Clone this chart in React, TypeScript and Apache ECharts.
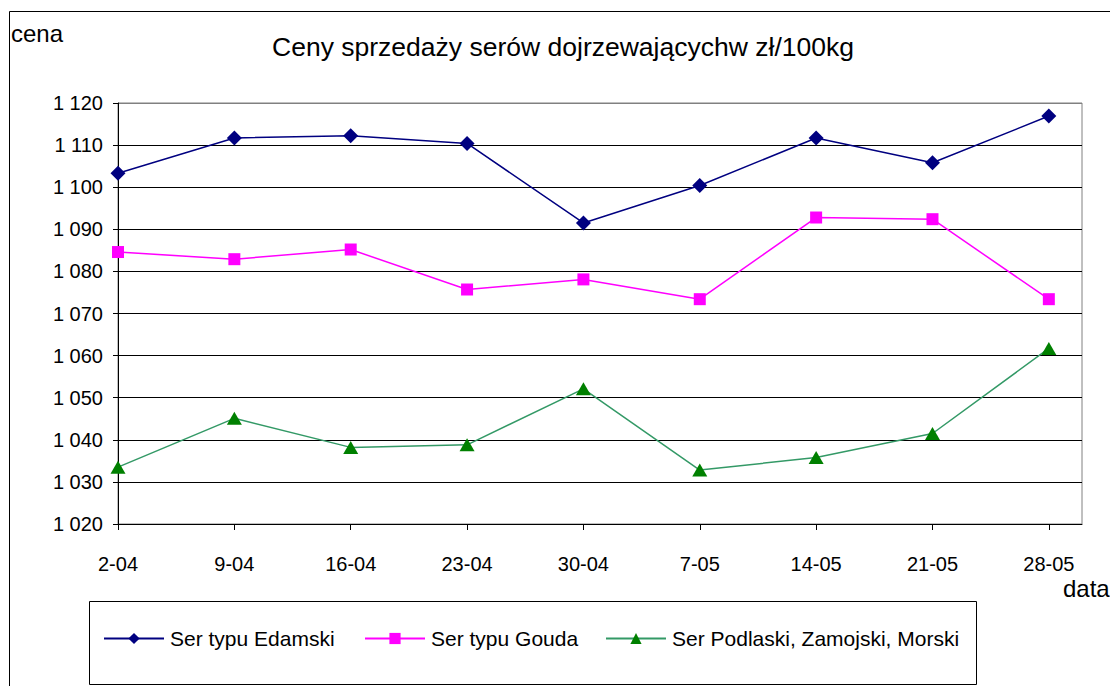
import React, { useEffect, useRef } from "react";
import * as echarts from "echarts";

const categories = ["2-04", "9-04", "16-04", "23-04", "30-04", "7-05", "14-05", "21-05", "28-05"];
const edamski = [1103.3, 1111.7, 1112.2, 1110.4, 1091.5, 1100.4, 1111.7, 1105.8, 1116.9];
const gouda = [1084.6, 1082.9, 1085.2, 1075.7, 1078.1, 1073.4, 1092.8, 1092.4, 1073.4];
const podlaski = [1033.5, 1045.1, 1038.2, 1038.8, 1052.1, 1032.8, 1035.8, 1041.5, 1061.7];
const seriesNames = ["Ser typu Edamski", "Ser typu Gouda", "Ser Podlaski, Zamojski, Morski"];
const yMin = 1020;
const yMax = 1120;
const yStep = 10;
const titleText = "Ceny sprzedaży serów dojrzewającychw zł/100kg";
const yName = "cena";
const xName = "data";

const FONT = '"Liberation Sans", Arial, sans-serif';

function fmtY(v: number): string {
  const s = String(Math.round(v));
  return s.replace(/\B(?=(\d{3})+(?!\d))/g, " ");
}

export default function App() {
  const ref = useRef<HTMLDivElement>(null);
  useEffect(() => {
    if (!ref.current) return;
    const chart = echarts.init(ref.current, null, { renderer: "svg" });
    const toPts = (arr: number[]) => arr.map((v, i) => [i, v]);
    const idx = categories.map((_, i) => i);
    const legendBase = {
      top: 628,
      itemWidth: 60,
      itemHeight: 14,
      padding: 0,
      itemGap: 0,
      textStyle: { fontFamily: FONT, fontSize: 21, color: "#000", padding: [0, 0, 0, 1] },
    };
    const nLines = Math.round((yMax - yMin) / yStep) + 1;
    const gridLineColors = Array.from({ length: nLines }, (_, i) => (i === nLines - 1 ? "#808080" : "#000000"));
    chart.setOption({
      animation: false,
      backgroundColor: "#fff",
      textStyle: { fontFamily: FONT },
      grid: {
        left: 118,
        right: 28,
        top: 103,
        bottom: 162,
        show: true,
        borderColor: "#808080",
        borderWidth: 1,
        backgroundColor: "transparent",
      },
      xAxis: {
        type: "value",
        min: 0,
        max: 8.285,
        interval: 1,
        axisLine: { show: true, lineStyle: { color: "#000", width: 1 } },
        axisTick: { show: true, length: 6, lineStyle: { color: "#000" }, customValues: idx },
        axisLabel: {
          customValues: idx,
          margin: 30,
          fontFamily: FONT,
          fontSize: 20,
          color: "#000",
          formatter: (v: number) => (Number.isInteger(v) && categories[v] !== undefined ? categories[v] : ""),
        },
        splitLine: { show: false },
      },
      yAxis: {
        type: "value",
        min: yMin,
        max: yMax,
        interval: yStep,
        axisLine: { show: true, lineStyle: { color: "#000", width: 1 } },
        axisTick: { show: true, length: 5, lineStyle: { color: "#000" } },
        axisLabel: {
          margin: 15,
          fontFamily: FONT,
          fontSize: 20,
          color: "#000",
          formatter: (v: number) => fmtY(v),
        },
        splitLine: { show: true, lineStyle: { color: gridLineColors, width: 1 } },
      },
      legend: [
        { ...legendBase, left: 103, data: [seriesNames[0]] },
        { ...legendBase, left: 364, data: [seriesNames[1]] },
        { ...legendBase, left: 605, data: [seriesNames[2]] },
      ],
      graphic: [
        {
          type: "rect",
          z: -10,
          shape: { x: 9.5, y: 11.5, width: 1300, height: 900 },
          style: { fill: "none", stroke: "#000", lineWidth: 1 },
          silent: true,
        },
        {
          type: "rect",
          z: -10,
          shape: { x: 89.5, y: 601.5, width: 887, height: 83 },
          style: { fill: "none", stroke: "#000", lineWidth: 1 },
          silent: true,
        },
        {
          type: "text",
          x: 563,
          y: 47,
          scaleX: 1.02,
          style: {
            text: titleText,
            font: `26px ${FONT}`,
            fill: "#000",
            align: "center",
            verticalAlign: "middle",
            textAlign: "center",
            textVerticalAlign: "middle",
          },
        },
        {
          type: "text",
          x: 11,
          y: 33,
          style: {
            text: yName,
            font: `24px ${FONT}`,
            fill: "#000",
            align: "left",
            verticalAlign: "middle",
            textAlign: "left",
            textVerticalAlign: "middle",
          },
        },
        {
          type: "text",
          x: 1063,
          y: 588,
          style: {
            text: xName,
            font: `24px ${FONT}`,
            fill: "#000",
            align: "left",
            verticalAlign: "middle",
            textAlign: "left",
            textVerticalAlign: "middle",
          },
        },
      ],
      series: [
        {
          name: seriesNames[0],
          type: "line",
          data: toPts(edamski),
          symbol: "diamond",
          symbolSize: 15,
          lineStyle: { color: "#000080", width: 1.5 },
          itemStyle: { color: "#000080" },
        },
        {
          name: seriesNames[1],
          type: "line",
          data: toPts(gouda),
          symbol: "rect",
          symbolSize: 12,
          lineStyle: { color: "#FF00FF", width: 1.5 },
          itemStyle: { color: "#FF00FF" },
        },
        {
          name: seriesNames[2],
          type: "line",
          data: toPts(podlaski),
          symbol: "triangle",
          symbolSize: [15, 13],
          lineStyle: { color: "#339966", width: 1.5 },
          itemStyle: { color: "#008000" },
        },
      ],
    });
    return () => chart.dispose();
  }, []);
  return (
    <div
      ref={ref}
      style={{ position: "absolute", left: 0, top: 0, width: 1110, height: 686 }}
    />
  );
}
